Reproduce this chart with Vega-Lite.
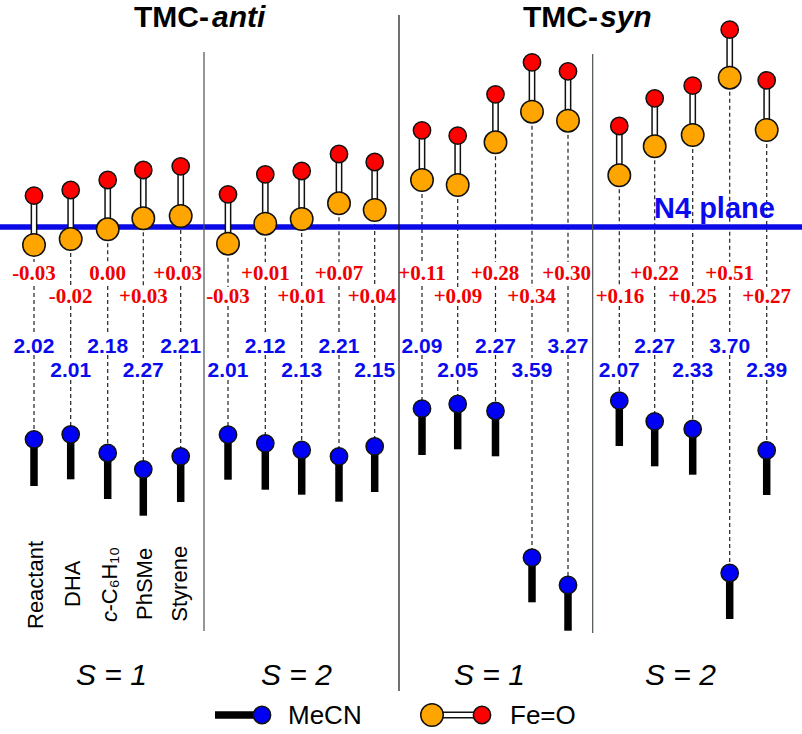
{"$schema":"https://vega.github.io/schema/vega-lite/v6.json","width":802,"height":734,"padding":0,"autosize":{"type":"none"},"background":"white","config":{"view":{"stroke":null}},
"datasets":{"cols":[
{"group":"TMC-anti","spin":1,"substrate":"Reactant","x":34,"O":31.3,"Fe":-18,"N":-212.3,"end":-259,"dFe":"-0.03","dN":"2.02","xRed":34,"yRed":-53,"yBlue":-126.3,"g1":-35,"g2":-59,"g3":-108,"g4":-128},
{"group":"TMC-anti","spin":1,"substrate":"DHA","x":70.7,"O":37,"Fe":-12,"N":-207.3,"end":-252.3,"dFe":"-0.02","dN":"2.01","xRed":70.7,"yRed":-76.3,"yBlue":-150.3,"g1":-60,"g2":-79,"g3":-131,"g4":-153},
{"group":"TMC-anti","spin":1,"substrate":"c-C6H10","x":107.7,"O":47,"Fe":-2.3,"N":-226,"end":-272,"dFe":"0.00","dN":"2.18","xRed":107.7,"yRed":-53,"yBlue":-126.3,"g1":-35,"g2":-59,"g3":-108,"g4":-128},
{"group":"TMC-anti","spin":1,"substrate":"PhSMe","x":143.3,"O":57,"Fe":8.7,"N":-242.3,"end":-288.7,"dFe":"+0.03","dN":"2.27","xRed":143.3,"yRed":-76.3,"yBlue":-150.3,"g1":-60,"g2":-79,"g3":-131,"g4":-153},
{"group":"TMC-anti","spin":1,"substrate":"Styrene","x":180.7,"O":60.7,"Fe":11,"N":-229.3,"end":-275,"dFe":"+0.03","dN":"2.21","xRed":177.7,"yRed":-53,"yBlue":-126.3,"g1":-35,"g2":-59,"g3":-108,"g4":-128},
{"group":"TMC-anti","spin":2,"substrate":"Reactant","x":228,"O":32.7,"Fe":-16.7,"N":-207.7,"end":-252.7,"dFe":"-0.03","dN":"2.01","xRed":228,"yRed":-76.3,"yBlue":-150.3,"g1":-60,"g2":-79,"g3":-131,"g4":-153},
{"group":"TMC-anti","spin":2,"substrate":"DHA","x":265.3,"O":52.7,"Fe":3.3,"N":-216.3,"end":-262.7,"dFe":"+0.01","dN":"2.12","xRed":265.3,"yRed":-53,"yBlue":-126.3,"g1":-35,"g2":-59,"g3":-108,"g4":-128},
{"group":"TMC-anti","spin":2,"substrate":"c-C6H10","x":301.7,"O":56,"Fe":8,"N":-223,"end":-267.7,"dFe":"+0.01","dN":"2.13","xRed":301.7,"yRed":-76.3,"yBlue":-150.3,"g1":-60,"g2":-79,"g3":-131,"g4":-153},
{"group":"TMC-anti","spin":2,"substrate":"PhSMe","x":339,"O":73,"Fe":23.7,"N":-229.3,"end":-274.7,"dFe":"+0.07","dN":"2.21","xRed":339,"yRed":-53,"yBlue":-126.3,"g1":-35,"g2":-59,"g3":-108,"g4":-128},
{"group":"TMC-anti","spin":2,"substrate":"Styrene","x":374.7,"O":65,"Fe":17,"N":-219.3,"end":-265,"dFe":"+0.04","dN":"2.15","xRed":372,"yRed":-76.3,"yBlue":-150.3,"g1":-60,"g2":-79,"g3":-131,"g4":-153},
{"group":"TMC-syn","spin":1,"substrate":"Reactant","x":422,"O":96.7,"Fe":47,"N":-181.7,"end":-228,"dFe":"+0.11","dN":"2.09","xRed":422,"yRed":-53,"yBlue":-126.3,"g1":-35,"g2":-59,"g3":-108,"g4":-128},
{"group":"TMC-syn","spin":1,"substrate":"DHA","x":457.7,"O":91.3,"Fe":42,"N":-177,"end":-222.3,"dFe":"+0.09","dN":"2.05","xRed":458,"yRed":-76.3,"yBlue":-150.3,"g1":-60,"g2":-79,"g3":-131,"g4":-153},
{"group":"TMC-syn","spin":1,"substrate":"c-C6H10","x":495.5,"O":132.7,"Fe":84.7,"N":-184,"end":-229.3,"dFe":"+0.28","dN":"2.27","xRed":495,"yRed":-53,"yBlue":-126.3,"g1":-35,"g2":-59,"g3":-108,"g4":-128},
{"group":"TMC-syn","spin":1,"substrate":"PhSMe","x":532,"O":164.7,"Fe":115.3,"N":-330.7,"end":-375.3,"dFe":"+0.34","dN":"3.59","xRed":531.7,"yRed":-76.3,"yBlue":-150.3,"g1":-60,"g2":-79,"g3":-131,"g4":-153},
{"group":"TMC-syn","spin":1,"substrate":"Styrene","x":568,"O":155.7,"Fe":106.3,"N":-358,"end":-403.7,"dFe":"+0.30","dN":"3.27","xRed":566.7,"yRed":-53,"yBlue":-126.3,"g1":-35,"g2":-59,"g3":-108,"g4":-128},
{"group":"TMC-syn","spin":2,"substrate":"Reactant","x":619.3,"O":101,"Fe":51.7,"N":-173.7,"end":-219,"dFe":"+0.16","dN":"2.07","xRed":620,"yRed":-76.3,"yBlue":-150.3,"g1":-60,"g2":-79,"g3":-131,"g4":-153},
{"group":"TMC-syn","spin":2,"substrate":"DHA","x":654.7,"O":128.7,"Fe":80.7,"N":-194.3,"end":-239.3,"dFe":"+0.22","dN":"2.27","xRed":654.7,"yRed":-53,"yBlue":-126.3,"g1":-35,"g2":-59,"g3":-108,"g4":-128},
{"group":"TMC-syn","spin":2,"substrate":"c-C6H10","x":692.7,"O":141.3,"Fe":92,"N":-202,"end":-247.7,"dFe":"+0.25","dN":"2.33","xRed":692.7,"yRed":-76.3,"yBlue":-150.3,"g1":-60,"g2":-79,"g3":-131,"g4":-153},
{"group":"TMC-syn","spin":2,"substrate":"PhSMe","x":729.7,"O":197.3,"Fe":149.3,"N":-346,"end":-392,"dFe":"+0.51","dN":"3.70","xRed":729.7,"yRed":-53,"yBlue":-126.3,"g1":-35,"g2":-59,"g3":-108,"g4":-128},
{"group":"TMC-syn","spin":2,"substrate":"Styrene","x":766.7,"O":146.7,"Fe":97,"N":-223.3,"end":-268,"dFe":"+0.27","dN":"2.39","xRed":766.7,"yRed":-76.3,"yBlue":-150.3,"g1":-60,"g2":-79,"g3":-131,"g4":-153}
]},
"layer":[
{"data":{"name":"cols"},"mark":{"type":"rule","strokeDash":[4,3],"strokeWidth":1.2,"color":"#222222"},"encoding":{"x":{"field":"x","type":"quantitative","axis":null,"scale":{"domain":[0,802],"nice":false,"zero":false}},"y":{"field":"Fe","type":"quantitative","axis":null,"scale":{"domain":[-507,227],"nice":false,"zero":false}},"y2":{"field":"g1"}}},
{"data":{"name":"cols"},"mark":{"type":"rule","strokeDash":[4,3],"strokeWidth":1.2,"color":"#222222"},"encoding":{"x":{"field":"x","type":"quantitative"},"y":{"field":"g2","type":"quantitative"},"y2":{"field":"g3"}}},
{"data":{"name":"cols"},"mark":{"type":"rule","strokeDash":[4,3],"strokeWidth":1.2,"color":"#222222"},"encoding":{"x":{"field":"x","type":"quantitative"},"y":{"field":"g4","type":"quantitative"},"y2":{"field":"N"}}},
{"data":{"values":[{"plane":"N4 plane","a":0,"b":802,"h":0}]},"mark":{"type":"rule","strokeWidth":5.5,"color":"#0a0ae6"},"encoding":{"x":{"field":"a","type":"quantitative"},"x2":{"field":"b"},"y":{"field":"h","type":"quantitative"}}},
{"data":{"values":[{"x":204,"a":175,"b":-404},{"x":592.7,"a":173,"b":-406}]},"mark":{"type":"rule","strokeWidth":1.2,"color":"#4a5050"},"encoding":{"x":{"field":"x","type":"quantitative"},"y":{"field":"a","type":"quantitative"},"y2":{"field":"b"}}},
{"data":{"values":[{"x":399,"a":212,"b":-464}]},"mark":{"type":"rule","strokeWidth":1.2,"color":"#111111"},"encoding":{"x":{"field":"x","type":"quantitative"},"y":{"field":"a","type":"quantitative"},"y2":{"field":"b"}}},
{"data":{"name":"cols"},"mark":{"type":"rule","strokeWidth":6.8,"color":"#111111"},"encoding":{"x":{"field":"x","type":"quantitative"},"y":{"field":"O","type":"quantitative"},"y2":{"field":"Fe"}}},
{"data":{"name":"cols"},"mark":{"type":"rule","strokeWidth":3.8,"color":"#ffffff"},"encoding":{"x":{"field":"x","type":"quantitative"},"y":{"field":"O","type":"quantitative"},"y2":{"field":"Fe"}}},
{"data":{"name":"cols"},"mark":{"type":"point","shape":"circle","filled":true,"size":506,"fill":"#FFA500","stroke":"#111111","strokeWidth":1.5,"opacity":1},"encoding":{"x":{"field":"x","type":"quantitative"},"y":{"field":"Fe","type":"quantitative"}}},
{"data":{"name":"cols"},"mark":{"type":"point","shape":"circle","filled":true,"size":300,"fill":"#FF0000","stroke":"#111111","strokeWidth":1.5,"opacity":1},"encoding":{"x":{"field":"x","type":"quantitative"},"y":{"field":"O","type":"quantitative"}}},
{"data":{"name":"cols"},"mark":{"type":"rule","strokeWidth":7.5,"color":"#000000"},"encoding":{"x":{"field":"x","type":"quantitative"},"y":{"field":"N","type":"quantitative"},"y2":{"field":"end"}}},
{"data":{"name":"cols"},"mark":{"type":"point","shape":"circle","filled":true,"size":300,"fill":"#0000F5","stroke":"#111111","strokeWidth":1.5,"opacity":1},"encoding":{"x":{"field":"x","type":"quantitative"},"y":{"field":"N","type":"quantitative"}}},
{"data":{"name":"cols"},"mark":{"type":"text","font":"Liberation Serif","fontWeight":"bold","fontSize":21,"color":"#F00000","align":"center","baseline":"alphabetic"},"encoding":{"x":{"field":"xRed","type":"quantitative"},"y":{"field":"yRed","type":"quantitative"},"text":{"field":"dFe"}}},
{"data":{"name":"cols"},"mark":{"type":"text","font":"Liberation Sans","fontWeight":"bold","fontSize":21,"color":"#0A0AEE","align":"center","baseline":"alphabetic"},"encoding":{"x":{"field":"x","type":"quantitative"},"y":{"field":"yBlue","type":"quantitative"},"text":{"field":"dN"}}},
{"data":{"values":[{"x":134,"y":200,"t":"TMC-"},{"x":523,"y":200,"t":"TMC-"}]},"mark":{"type":"text","font":"Liberation Sans","fontWeight":"bold","fontSize":30,"color":"#000000","align":"left","baseline":"alphabetic"},"encoding":{"x":{"field":"x","type":"quantitative"},"y":{"field":"y","type":"quantitative"},"text":{"field":"t"}}},
{"data":{"values":[{"x":212,"y":200,"t":"anti"},{"x":600,"y":200,"t":"syn"}]},"mark":{"type":"text","font":"Liberation Sans","fontWeight":"bold","fontStyle":"italic","fontSize":30,"color":"#000000","align":"left","baseline":"alphabetic"},"encoding":{"x":{"field":"x","type":"quantitative"},"y":{"field":"y","type":"quantitative"},"text":{"field":"t"}}},
{"data":{"values":[{"x":654,"y":9,"t":"N4 plane"}]},"mark":{"type":"text","font":"Liberation Sans","fontWeight":"bold","fontSize":29,"color":"#0A0AEE","align":"left","baseline":"alphabetic"},"encoding":{"x":{"field":"x","type":"quantitative"},"y":{"field":"y","type":"quantitative"},"text":{"field":"t"}}},
{"data":{"values":[{"x":76,"y":-458,"t":"S = 1"},{"x":261,"y":-458,"t":"S = 2"},{"x":454,"y":-458,"t":"S = 1"},{"x":645,"y":-458,"t":"S = 2"}]},"mark":{"type":"text","font":"Liberation Sans","fontStyle":"italic","fontSize":30,"color":"#000000","align":"left","baseline":"alphabetic"},"encoding":{"x":{"field":"x","type":"quantitative"},"y":{"field":"y","type":"quantitative"},"text":{"field":"t"}}},
{"data":{"values":[{"x":35.5,"y":-402,"t":"Reactant"},{"x":72.5,"y":-380,"t":"DHA"},{"x":109.5,"y":-384.5,"t":"-C₆H₁₀"},{"x":144.5,"y":-393,"t":"PhSMe"},{"x":180,"y":-394.7,"t":"Styrene"}]},"mark":{"type":"text","font":"Liberation Sans","fontSize":22,"angle":270,"color":"#000000","align":"left","baseline":"middle"},"encoding":{"x":{"field":"x","type":"quantitative"},"y":{"field":"y","type":"quantitative"},"text":{"field":"t"}}},
{"data":{"values":[{"x":109.5,"y":-395,"t":"c"}]},"mark":{"type":"text","font":"Liberation Sans","fontStyle":"italic","fontSize":22,"angle":270,"color":"#000000","align":"left","baseline":"middle"},"encoding":{"x":{"field":"x","type":"quantitative"},"y":{"field":"y","type":"quantitative"},"text":{"field":"t"}}},
{"data":{"values":[{"a":215,"b":262,"h":-488}]},"mark":{"type":"rule","strokeWidth":7.5,"color":"#000000"},"encoding":{"x":{"field":"a","type":"quantitative"},"x2":{"field":"b"},"y":{"field":"h","type":"quantitative"}}},
{"data":{"values":[{"a":432,"b":482,"h":-488}]},"mark":{"type":"rule","strokeWidth":6.8,"color":"#111111"},"encoding":{"x":{"field":"a","type":"quantitative"},"x2":{"field":"b"},"y":{"field":"h","type":"quantitative"}}},
{"data":{"values":[{"a":432,"b":482,"h":-488}]},"mark":{"type":"rule","strokeWidth":3.8,"color":"#ffffff"},"encoding":{"x":{"field":"a","type":"quantitative"},"x2":{"field":"b"},"y":{"field":"h","type":"quantitative"}}},
{"data":{"values":[{"x":262,"h":-488}]},"mark":{"type":"point","shape":"circle","filled":true,"size":300,"fill":"#0000F5","stroke":"#111111","strokeWidth":1.5,"opacity":1},"encoding":{"x":{"field":"x","type":"quantitative"},"y":{"field":"h","type":"quantitative"}}},
{"data":{"values":[{"x":432,"h":-488}]},"mark":{"type":"point","shape":"circle","filled":true,"size":506,"fill":"#FFA500","stroke":"#111111","strokeWidth":1.5,"opacity":1},"encoding":{"x":{"field":"x","type":"quantitative"},"y":{"field":"h","type":"quantitative"}}},
{"data":{"values":[{"x":482,"h":-488}]},"mark":{"type":"point","shape":"circle","filled":true,"size":300,"fill":"#FF0000","stroke":"#111111","strokeWidth":1.5,"opacity":1},"encoding":{"x":{"field":"x","type":"quantitative"},"y":{"field":"h","type":"quantitative"}}},
{"data":{"values":[{"x":288,"y":-497,"t":"MeCN"},{"x":510,"y":-497,"t":"Fe=O"}]},"mark":{"type":"text","font":"Liberation Sans","fontSize":26,"color":"#000000","align":"left","baseline":"alphabetic"},"encoding":{"x":{"field":"x","type":"quantitative"},"y":{"field":"y","type":"quantitative"},"text":{"field":"t"}}}
]}
